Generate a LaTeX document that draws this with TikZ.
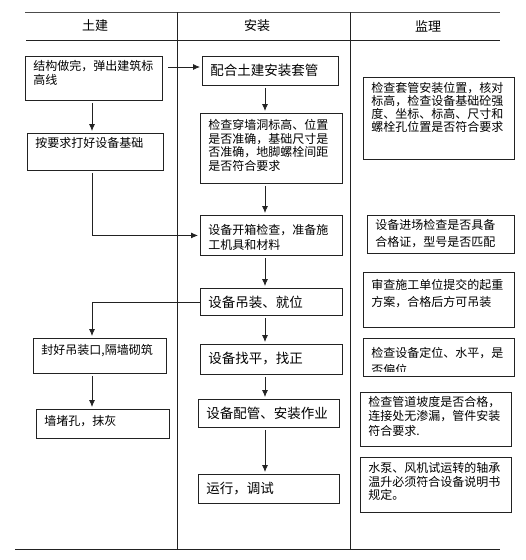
\documentclass[tikz,border=0pt]{standalone}
\usepackage{fontspec}
\usepackage{tikz}
\usetikzlibrary{arrows.meta}
\newfontfamily\cjk{Noto Sans CJK SC}
\definecolor{linecolor}{HTML}{222222}

\begin{document}
\begin{tikzpicture}[x=1pt, y=-1pt,
    rule/.style={draw=linecolor, line width=0.9pt},
    box/.style={draw=linecolor, line width=0.9pt, anchor=north west, align=left,
                inner xsep=8pt, inner ysep=0pt, font=\cjk\fontsize{12}{14}\selectfont},
    tall/.style 2 args={text height=#1pt, text depth=#2pt},
    lead/.style={font=\cjk\fontsize{12}{#1}\selectfont},
    big/.style={font=\cjk\fontsize{13.5}{15}\selectfont},
    tujian/.style={box, text width=121pt},
    anzhuang/.style={box, text width=126pt},
    jianli/.style={box, text width=135pt},
    head/.style={inner sep=0pt, font=\cjk\fontsize{13}{15}\selectfont},
    flow/.style={-{Latex[length=7pt, width=6pt]}, draw=linecolor, line width=0.8pt,
                 shorten >=2pt, shorten <=2pt}
]
    \useasboundingbox (0,0) rectangle (526,560);

    % table
    \draw[rule, draw=black!70] (25,12) -- (500,12);
    \draw[rule] (26,40) -- (500,40);
    \draw[rule] (15,549) -- (500,549);
    \draw[rule] (177,12) -- (177,549);
    \draw[rule] (350,12) -- (350,549);

    \node[head] (h1) at (95,26) {土建};
    \node[head] (h2) at (257,26) {安装};
    \node[head] (h3) at (428,26) {监理};

    % 土建
    \node[tujian, tall={14.5}{29.5}] (t1) at (25,56) {结构做完，弹出建筑标\\高线};
    \node[tujian, text width=120pt, tall={14.5}{22.5}] (t2) at (27,133) {按要求打好设备基础};
    \node[tujian, text width=117pt, tall={16.5}{18.5}] (t3) at (33,338) {封好吊装口,隔墙砌筑};
    \node[tujian, text width=117pt, tall={16.5}{12.5}] (t4) at (36,409) {墙堵孔，抹灰};

    % 安装
    \node[anzhuang, big, text width=120pt, tall={19.5}{9.5}] (a1) at (202,56) {配合土建安装套管};
    \node[anzhuang, lead=13.4, tall={16.5}{53.5}] (a2) at (200,113)
        {检查穿墙洞标高、位置\\是否准确，基础尺寸是\\否准确，地脚螺栓间距\\是否符合要求};
    \node[anzhuang, lead=15, tall={19.5}{20.5}] (a3) at (200,215)
        {设备开箱检查，准备施\\工机具和材料};
    \node[anzhuang, big, tall={19}{8}] (a4) at (200,288) {设备吊装、就位};
    \node[anzhuang, big, tall={19}{11}] (a5) at (200,344) {设备找平，找正};
    \node[anzhuang, big, text width=125pt, tall={19}{9}] (a6) at (198,399) {设备配管、安装作业};
    \node[anzhuang, big, text width=125pt, tall={19}{10}] (a7) at (198,474) {运行，调试};

    % 监理
    \node[jianli, lead=12.7, tall={15.5}{66.5}] (j1) at (363,77)
        {检查套管安装位置，核对\\标高，检查设备基础砼强\\度、坐标、标高、尺寸和\\螺栓孔位置是否符合要求};
    \node[jianli, text width=131pt, lead=16.7, tall={14.5}{23.5}] (j2) at (367,215)
        {设备进场检查是否具备\\合格证，型号是否匹配};
    \node[jianli, lead=17, tall={17.5}{37.5}] (j3) at (363,272)
        {审查施工单位提交的起重\\方案，合格后方可吊装};
    \begin{scope}
        \clip (355,330) rectangle (520,371);
        \node[jianli, draw=none, lead=17, tall={19.5}{18.5}] (j4) at (363,338)
            {检查设备定位、水平，是\\否偏位};
    \end{scope}
    \draw[rule] (j4.north west) rectangle (j4.south east);
    \node[jianli, lead=14.5, tall={14}{40}] (j5) at (360,392)
        {检查管道坡度是否合格，\\连接处无渗漏，管件安装\\符合要求.};
    \node[jianli, lead=13.5, tall={15.5}{39.5}] (j6) at (360,457)
        {水泵、风机试运转的轴承\\温升必须符合设备说明书\\规定。};

    % flow
    \coordinate (ls) at (92,0);
    \coordinate (ms) at (265,0);
    \draw[flow, shorten <=5pt] ([yshift=-11pt]t1.north east) -- ([yshift=-11pt]a1.north west);
    \draw[flow] (t1.south -| ls) -- (t2.north -| ls);
    \draw[flow] (t2.south -| ls) |- (a3.west);
    \foreach \u/\v in {a1/a2, a2/a3, a3/a4, a4/a5, a5/a6, a6/a7}
        \draw[flow] (\u.south -| ms) -- (\v.north -| ms);
    \draw[flow, shorten <=0pt] (a4.west) -| (t3.north -| ls);
    \draw[flow] (t3.south -| ls) -- (t4.north -| ls);
\end{tikzpicture}
\end{document}
